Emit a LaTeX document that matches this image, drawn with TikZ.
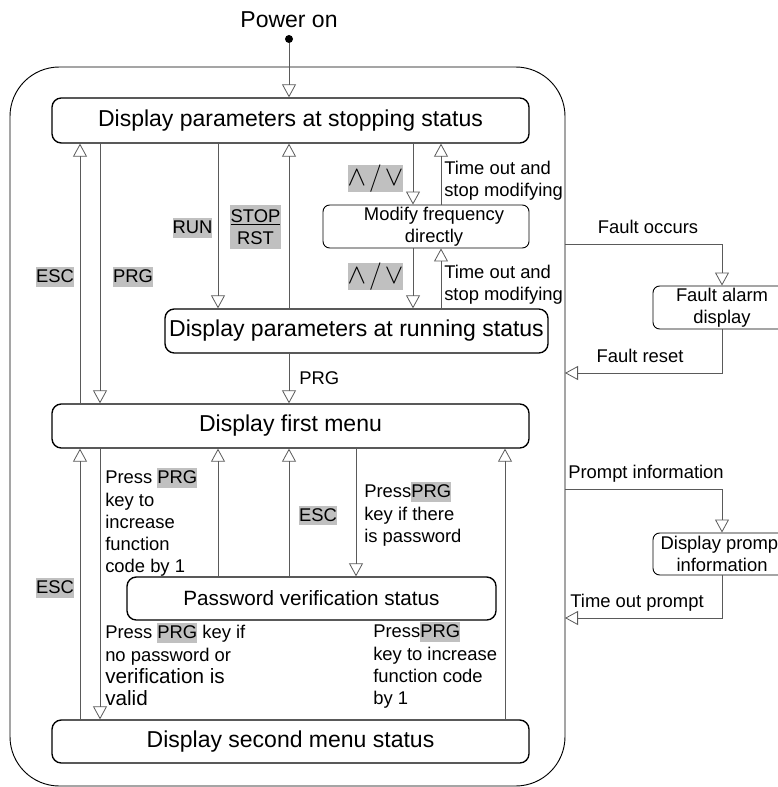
\documentclass[tikz,border=0pt]{standalone}
\usepackage{fontspec}
\setmainfont{Liberation Sans}
\usetikzlibrary{arrows.meta}

\definecolor{keygray}{RGB}{192,192,192}
\definecolor{linegray}{RGB}{90,90,90}

\newcommand\bigfont{\fontsize{17.25}{20.7}\selectfont}
\newcommand\labfont{\fontsize{13.8}{16.6}\selectfont}
\newcommand\midfont{\fontsize{15.5}{17.6}\selectfont}
\newcommand\keyhl[1]{{\setlength\fboxsep{0pt}\colorbox{keygray}{\rule[-0.23em]{0pt}{1.08em}#1}}}

\tikzset{
    statebox/.style={draw, line width=1pt, rounded corners=7pt, font=\bigfont, inner sep=0pt},
    smallbox/.style={draw, line width=0.7pt, rounded corners=5pt, font=\labfont, align=center, inner sep=0pt},
    flow/.style={draw=linegray, line width=0.6pt, -{Triangle[open, width=10.5pt, length=9.75pt]}},
    keylab/.style={fill=keygray, font=\labfont, inner sep=0pt, text height=11.7pt, text depth=3.2pt},
    updown/.style={fill=keygray, inner sep=0pt, minimum width=36.75pt, minimum height=18.75pt, font=\fontsize{20}{22}\selectfont},
    note/.style={font=\labfont, align=left, inner sep=0pt, anchor=north west},
}

\begin{document}
\begin{tikzpicture}[x=0.75pt, y=-0.75pt]
    % Fix the page size
    \useasboundingbox (0,0) rectangle (777,787);

    % Draw the outer frame
    \draw[line width=0.7pt, rounded corners=37pt] (10,67) rectangle (565,786);

    % Draw state boxes
    \node[statebox, minimum width=357.75pt, minimum height=33.75pt] (stop) at (290.5,120.5) {Display parameters at stopping status};
    \node[statebox, minimum width=287.25pt, minimum height=33pt] (run) at (356.5,331) {Display parameters at running status};
    \node[statebox, minimum width=357.75pt, minimum height=33pt] (menuA) at (290.5,426) {Display first menu};
    \node[statebox, minimum width=276.75pt, minimum height=32.25pt, font=\midfont] (pwd) at (311.5,598.5) {Password verification status};
    \node[statebox, minimum width=357.75pt, minimum height=32.25pt] (menuB) at (290.5,741.5) {Display second menu status};
    \node[smallbox, minimum width=154.5pt, minimum height=32.25pt] (modify) at (426,226.5) {\hspace*{12pt}Modify frequency\\\hspace*{12pt}directly};
    \node[smallbox, minimum width=103.5pt, minimum height=32.25pt] (fault) at (722,307.5) {Fault alarm\\display};
    \node[smallbox, minimum width=103.5pt, minimum height=31.5pt] (prompt) at (722,554) {Display prompt\\information};

    % Power on
    \node[font=\bigfont] (pwrlab) at (289,20) {Power on};
    \node[circle, fill, inner sep=0pt, minimum size=6pt] (pwr) at (289,39) {};
    \draw[flow] (pwr) -- (pwr |- stop.north);

    % Columns of the vertical connectors
    \coordinate (xa) at (80,0);
    \coordinate (xb) at (100,0);
    \coordinate (xc) at (218,0);
    \coordinate (xd) at (289,0);
    \coordinate (xg) at (356,0);
    \coordinate (xe) at (413,0);
    \coordinate (xf) at (441,0);
    \coordinate (xh) at (505,0);

    % Draw connectors around the stopping status
    \draw[flow] (menuA.north -| xa) -- (stop.south -| xa);
    \draw[flow] (stop.south -| xb) -- (menuA.north -| xb);
    \draw[flow] (stop.south -| xc) -- (run.north -| xc);
    \draw[flow] (run.north -| xd) -- (stop.south -| xd);
    \draw[flow] (stop.south -| xe) -- (modify.north -| xe);
    \draw[flow] (modify.north -| xf) -- (stop.south -| xf);
    \draw[flow] (modify.south -| xe) -- (run.north -| xe);
    \draw[flow] (run.north -| xf) -- (modify.south -| xf);
    \draw[flow] (run.south -| xd) -- (menuA.north -| xd);

    % Draw connectors around the menus
    \draw[flow] (menuB.north -| xa) -- (menuA.south -| xa);
    \draw[flow] (menuA.south -| xb) -- (menuB.north -| xb);
    \draw[flow] (pwd.north -| xc) -- (menuA.south -| xc);
    \draw[flow] (pwd.north -| xd) -- (menuA.south -| xd);
    \draw[flow] (menuA.south -| xg) -- (pwd.north -| xg);
    \draw[flow] (menuB.north -| xh) -- (menuA.south -| xh);

    % Fault and prompt loops on the right
    \coordinate (faultout) at (565,244);
    \coordinate (faultin) at (565,373);
    \coordinate (promptout) at (565,489);
    \coordinate (promptin) at (565,618);
    \draw[flow] (faultout) -| (fault.north);
    \draw[flow] (fault.south) |- (faultin);
    \draw[flow] (promptout) -| (prompt.north);
    \draw[flow] (prompt.south) |- (promptin);

    % Key labels
    \node[keylab] (escA) at (55,277) {ESC};
    \node[keylab] (prgA) at (133,277) {PRG};
    \node[keylab] (runkey) at (192.5,228) {RUN};
    \node[fill=keygray, font=\labfont, align=center, inner sep=0pt, minimum width=38.25pt, minimum height=33pt] (stopkey) at (255.5,227) {\underline{STOP}\\RST};
    \node[updown] (updownA) at (375.5,178.5) {$\wedge\mkern2mu/\mkern2mu\vee$};
    \node[updown] (updownB) at (375.5,276.5) {$\wedge\mkern2mu/\mkern2mu\vee$};
    \node[keylab] (escB) at (318,515.5) {ESC};
    \node[keylab] (escC) at (55,588) {ESC};

    % Notes beside the connectors
    \node[note] (toutA) at (444,160.5) {Time out and\\stop modifying};
    \node[note] (toutB) at (444,264.5) {Time out and\\stop modifying};
    \node[font=\labfont, anchor=west, inner sep=0pt] (prgB) at (299,378.5) {PRG};
    \node[font=\labfont] (faultocc) at (648,226.5) {Fault occurs};
    \node[font=\labfont] (faultrst) at (640,355.5) {Fault reset};
    \node[font=\labfont] (promptinfo) at (646,474) {Prompt information};
    \node[font=\labfont] (timeout) at (637,603) {Time out prompt};
    \node[note] (incA) at (105,468) {Press \keyhl{PRG}\\key to\\increase\\function\\code by 1};
    \node[note] (pwdhint) at (364,482) {Press\keyhl{PRG}\\key if there\\is password};
    \node[note] (validhint) at (105,623) {Press \keyhl{PRG} key if\\no password or\\{\midfont verification is}\\{\midfont valid}};
    \node[note] (incB) at (373,622) {Press\keyhl{PRG}\\key to increase\\function code\\by 1};
\end{tikzpicture}
\end{document}
